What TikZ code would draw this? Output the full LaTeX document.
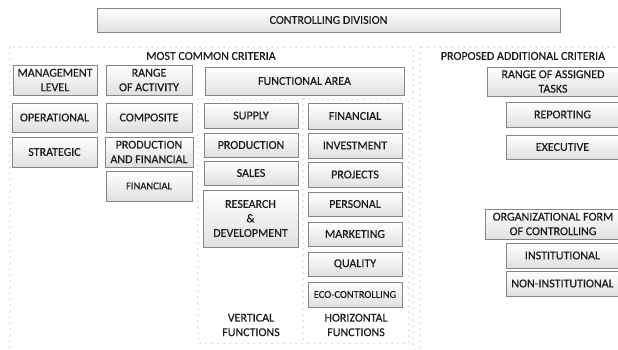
\documentclass[tikz,border=0pt]{standalone}
\usepackage{fontspec}
\setmainfont{Carlito}
\newfontfamily\boxfont{Carlito}[FakeBold=0.4]
\usetikzlibrary{shadows}
\definecolor{boxline}{HTML}{858585}
\definecolor{boxbot}{HTML}{E0E0E0}
\definecolor{inktext}{HTML}{1C1C1C}
\definecolor{dotgray}{HTML}{6E6E6E}
\tikzset{
  cbox/.style={draw=boxline, line width=0.6pt, top color=white, bottom color=boxbot,
    drop shadow={shadow xshift=1.3pt, shadow yshift=-1.3pt, fill=black!45, opacity=0.6},
    text=inktext, font=\boxfont\fontsize{12}{14.5}\selectfont, align=center, inner sep=0pt},
  dotline/.style={draw=dotgray, line width=1pt, line cap=round, dash pattern=on 0pt off 6pt},
  heading/.style={text=inktext, font=\boxfont\fontsize{12}{14.5}\selectfont, align=center, inner sep=0pt}
}
% box helper: name, left, top, right, bottom, text
\newcommand{\cbx}[6]{%
  \node[cbox, minimum width={#4-#2}, minimum height={#5-#3}] (#1) at ({(#2+#4)/2},{(#3+#5)/2}) {#6};}
\begin{document}
\begin{tikzpicture}[x=1pt,y=-1pt]
\useasboundingbox (0,0) rectangle (618,349);
\clip (0,0) rectangle (618,349);

% dotted frames
\coordinate (mcTL) at (10,47);   \coordinate (mcBR) at (413,360);
\coordinate (paTL) at (420,47);  \coordinate (paBR) at (630,360);
\coordinate (fnTL) at (198,99);  \coordinate (fnBR) at (409,343);
\coordinate (dvT) at (303,99);   \coordinate (dvB) at (303,343);
\draw[dotline] (mcTL) rectangle (mcBR);
\draw[dotline] (paTL) rectangle (paBR);
\draw[dotline] (fnTL) rectangle (fnBR);
\draw[dotline] (dvT) -- (dvB);

% headings
\node[heading] (mchead) at (211,56) {MOST COMMON CRITERIA};
\node[heading] (pahead) at (523,56) {PROPOSED ADDITIONAL CRITERIA};
\node[heading] (vfunc) at (251,325) {VERTICAL\\FUNCTIONS};
\node[heading] (hfunc) at (356,325) {HORIZONTAL\\FUNCTIONS};

% top box
\cbx{division}{97}{8}{560}{32}{CONTROLLING DIVISION}

% management level
\cbx{mgmt}{13}{65}{97}{95}{MANAGEMENT\\LEVEL}
\cbx{oper}{12}{103}{97}{132}{OPERATIONAL}
\cbx{strat}{12}{137}{97}{167}{STRATEGIC}

% range of activity
\cbx{range}{106}{65}{192}{95}{RANGE\\OF ACTIVITY}
\cbx{comp}{106}{103}{192}{132}{COMPOSITE}
\cbx{prodfin}{105}{137}{193}{167}{PRODUCTION\\AND FINANCIAL}
\cbx{finact}{106}{171}{192}{201}{\fontsize{10.5}{12}\selectfont FINANCIAL}

% functional area
\cbx{func}{205}{67}{404}{95}{FUNCTIONAL AREA}
\cbx{supply}{204}{103}{298}{128}{SUPPLY}
\cbx{prod}{204}{133}{298}{157}{PRODUCTION}
\cbx{sales}{204}{161}{298}{185}{SALES}
\cbx{rnd}{203}{190}{298}{247}{RESEARCH\\\&\\DEVELOPMENT}
\cbx{fin}{308}{103}{402}{129}{FINANCIAL}
\cbx{inv}{308}{133}{402}{158}{INVESTMENT}
\cbx{proj}{308}{162}{402}{187}{PROJECTS}
\cbx{pers}{308}{192}{402}{216}{PERSONAL}
\cbx{mark}{308}{222}{402}{246}{MARKETING}
\cbx{qual}{308}{252}{402}{276}{QUALITY}
\cbx{eco}{308}{282}{402}{307}{\fontsize{10.5}{12}\selectfont ECO-CONTROLLING}

% proposed additional criteria
\cbx{tasks}{487}{67}{619}{96}{RANGE OF ASSIGNED\\TASKS}
\cbx{report}{506}{102}{619}{127}{REPORTING}
\cbx{exec}{506}{135}{619}{159}{EXECUTIVE}
\cbx{orgform}{485}{209}{621}{239}{ORGANIZATIONAL FORM\\OF CONTROLLING}
\cbx{inst}{506}{243}{619}{268}{INSTITUTIONAL}
\cbx{noninst}{506}{271}{619}{296}{NON-INSTITUTIONAL}
\end{tikzpicture}
\end{document}
